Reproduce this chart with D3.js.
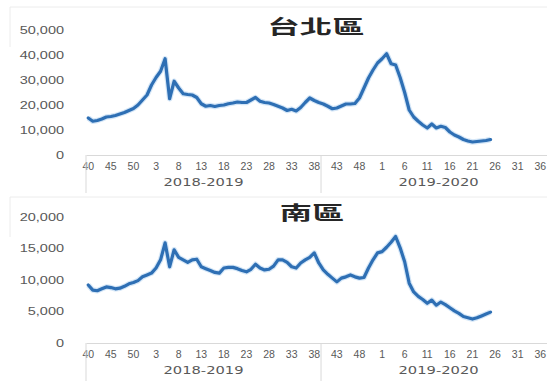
<!DOCTYPE html>
<html>
<head>
<meta charset="utf-8">
<script src="https://cdn.jsdelivr.net/npm/d3@7"></script>
<style>
  body { margin: 0; background: #fff; }
  svg { display: block; }
  .tick text { fill: #595959; }
</style>
</head>
<body>
<script>
// season labels and week numbers (week 40 .. week 39)
var seasons = ["2018-2019", "2019-2020"];
var weeks = [40, 41, 42, 43, 44, 45, 46, 47, 48, 49, 50, 51, 52,
  1, 2, 3, 4, 5, 6, 7, 8, 9, 10, 11, 12, 13, 14, 15, 16, 17, 18, 19, 20,
  21, 22, 23, 24, 25, 26, 27, 28, 29, 30, 31, 32, 33, 34, 35, 36, 37, 38, 39];

var taipeiTicks = [0, 10000, 20000, 30000, 40000, 50000];
var southTicks = [0, 5000, 10000, 15000, 20000];

// weekly values, starting at week 40 of 2018
var taipei = [14800, 13500, 13800, 14400, 15200, 15400, 15800, 16400, 17000, 17800,
  18600, 20000, 22000, 24000, 28000, 31000, 33500, 38500, 22500, 29500,
  26800, 24500, 24200, 24000, 23000, 20500, 19500, 19800, 19400, 19800,
  20000, 20500, 20800, 21200, 21000, 21000, 22000, 23000, 21500, 21000,
  20800, 20200, 19500, 18800, 17800, 18300, 17600, 19000, 21000, 22800,
  21800, 21000, 20400, 19500, 18500, 18800, 19600, 20400, 20400, 20600,
  22800, 26800, 30800, 34000, 36800, 38500, 40500, 36500, 36000, 31000,
  25000, 18000, 15200, 13500, 12000, 10800, 12400, 10800, 11500, 11000,
  9200, 8000, 7200, 6200, 5600, 5200, 5400, 5600, 5800, 6200];

var south = [9200, 8400, 8300, 8600, 8900, 8800, 8600, 8700, 9000, 9400,
  9600, 9900, 10500, 10800, 11100, 11900, 13200, 15900, 12100, 14800,
  13600, 13200, 12800, 13200, 13300, 12100, 11800, 11500, 11200, 11100,
  11900, 12000, 12000, 11800, 11500, 11300, 11700, 12500, 11900, 11600,
  11700, 12200, 13200, 13200, 12800, 12100, 11900, 12700, 13200, 13600,
  14300, 12700, 11600, 10900, 10300, 9700, 10300, 10500, 10800, 10500,
  10300, 10400, 11900, 13200, 14300, 14500, 15200, 16000, 16900, 15100,
  12900, 9500, 8100, 7400, 6900, 6300, 6800, 6000, 6500, 6100,
  5600, 5100, 4700, 4200, 4000, 3800, 4000, 4300, 4600, 4900];

var width = 547, height = 381;

var keys = [];
seasons.forEach(function(s) {
  weeks.forEach(function(w) { keys.push(s + "|" + w); });
});

var x = d3.scaleBand().domain(keys).range([86, 86 + keys.length * 4.52]).padding(0);

var svg = d3.select("body").append("svg")
    .attr("width", width)
    .attr("height", height)
    .style("font-family", "'DejaVu Sans', sans-serif");

svg.append("rect").attr("width", width).attr("height", height).attr("fill", "#fff");

function panel(opts) {
  var g = svg.append("g");

  // faint chart border
  g.append("path")
      .attr("d", "M10," + (opts.boxTop + 40) + "V" + opts.boxTop + "H" + width)
      .attr("fill", "none")
      .attr("stroke", "#ececec");

  var y = d3.scaleLinear().domain([0, d3.max(opts.ticks)]).range([opts.base, opts.top]);

  var yAxis = g.append("g")
      .attr("transform", "translate(86,0)")
      .call(d3.axisLeft(y).tickValues(opts.ticks).tickSize(0).tickPadding(22)
        .tickFormat(d3.format(",")));
  yAxis.select(".domain").remove();
  yAxis.selectAll("text")
      .style("font-size", "10.5px")
      .attr("transform", "scale(1.38,1)")
      .attr("x", -22 / 1.38);

  var xAxis = g.append("g")
      .attr("transform", "translate(0," + opts.base + ")")
      .call(d3.axisBottom(x)
        .tickValues(keys.filter(function(d, i) { return i % 5 === 0; }))
        .tickSize(0).tickPadding(8)
        .tickFormat(function(d) { return d.split("|")[1]; }));
  xAxis.select(".domain").attr("stroke", "#d9d9d9");
  xAxis.selectAll("text").style("font-size", "10.5px").attr("fill", "#595959");

  // season separators and labels
  var seasonEdges = [0, 52, 104];
  g.selectAll(".sep")
      .data(seasonEdges)
    .enter().append("line")
      .attr("class", "sep")
      .attr("x1", function(i) { return 86 + i * x.bandwidth(); })
      .attr("x2", function(i) { return 86 + i * x.bandwidth(); })
      .attr("y1", opts.base)
      .attr("y2", opts.base + 38)
      .attr("stroke", "#d9d9d9");

  g.selectAll(".season")
      .data(seasons)
    .enter().append("text")
      .attr("class", "season")
      .attr("transform", function(s) {
        var cx = x(s + "|" + weeks[0]) + x.bandwidth() * 26;
        return "translate(" + cx + "," + (opts.base + 31) + ") scale(1.4,1)";
      })
      .attr("text-anchor", "middle")
      .style("font-size", "10.5px")
      .attr("fill", "#595959")
      .text(function(s) { return s; });

  var line = d3.line()
      .x(function(d, i) { return x(keys[i]) + x.bandwidth() / 2; })
      .y(function(d) { return y(d); })
      .curve(d3.curveLinear);

  g.append("path")
      .datum(opts.values)
      .attr("d", line)
      .attr("fill", "none")
      .attr("stroke", "#a9cdef")
      .attr("stroke-width", 5.5)
      .attr("stroke-opacity", 0.5)
      .attr("stroke-linejoin", "round");

  g.append("path")
      .datum(opts.values)
      .attr("d", line)
      .attr("fill", "none")
      .attr("stroke", "#2e6fb4")
      .attr("stroke-width", 3.2)
      .attr("stroke-linejoin", "round")
      .attr("stroke-linecap", "round");

  g.append("text")
      .attr("transform", "translate(" + opts.titleX + "," + opts.titleY + ") scale(1.7,1)")
      .attr("text-anchor", "middle")
      .attr("dominant-baseline", "central")
      .style("font-family", "'Noto Sans CJK TC', sans-serif")
      .style("font-weight", "bold")
      .style("font-size", "19px")
      .attr("fill", "#262626")
      .text(opts.title);
}

panel({ title: "台北區", values: taipei, ticks: taipeiTicks,
  base: 155, top: 30, boxTop: 7, titleX: 316, titleY: 26 });

panel({ title: "南區", values: south, ticks: southTicks,
  base: 343, top: 217, boxTop: 197, titleX: 312, titleY: 212 });
</script>
</body>
</html>
